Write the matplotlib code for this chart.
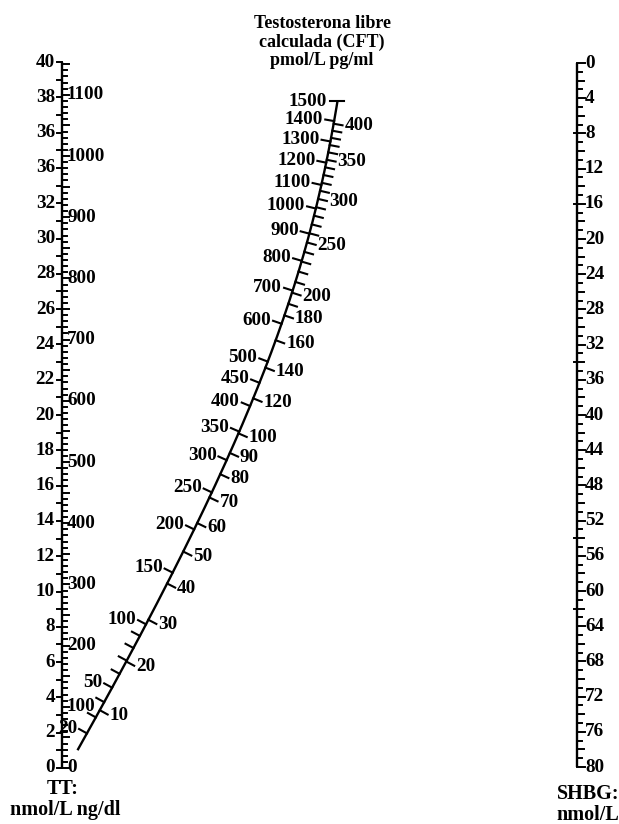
import numpy as np
import matplotlib
matplotlib.use("Agg")
import matplotlib.pyplot as plt

# ---- scale values ----
tt_nmol_ticks = np.arange(0, 41, 2)
# the original chart prints "36" twice (the 34 mark is mislabelled)
tt_nmol_labels = ["0", "2", "4", "6", "8", "10", "12", "14", "16", "18", "20",
                  "22", "24", "26", "28", "30", "32", "36", "36", "38", "40"]
tt_ngdl_labels = [0, 100, 200, 300, 400, 500, 600, 700, 800, 900, 1000, 1100]
shbg_labels = np.arange(0, 81, 4)
shbg_marks_left = [8, 16, 34, 54, 62]

cft_pmol_labels = [20, 50, 100, 150, 200, 250, 300, 350, 400, 450, 500,
                   600, 700, 800, 900, 1000, 1100, 1200, 1300, 1400, 1500]
cft_pmol_minor = [30, 40, 60, 70, 80, 90]
cft_pg_labels = [10, 20, 30, 40, 50, 60, 70, 80, 90, 100, 120, 140, 160,
                 180, 200, 250, 300, 350, 400]
cft_pg_minor = [190, 210, 220, 230, 240, 260, 270, 280, 290,
                310, 320, 330, 340, 360, 370, 380, 390]

NGDL_PER_NMOL = 28.84
PMOL_PER_PG = 3.467
N_ALB = 23.43      # 1 + Ka*[albumin]
K_SHBG = 1.0       # L/nmol

# ---- layout (pixels) ----
W, H = 619, 824
XL, XR = 62, 577
Y_TT0, Y_TT40 = 768, 62
Y_S0, Y_S80 = 63, 767
S_L = (Y_TT0 - Y_TT40) / 40.0
S_R = (Y_S80 - Y_S0) / 80.0


def tt_y(nmol):
    return Y_TT0 - S_L * np.asarray(nmol, dtype=float)


def shbg_y(v):
    return Y_S0 + S_R * np.asarray(v, dtype=float)


def cft_xy(pmol):
    # Vermeulen: TT = N*FT + SHBG*K*FT/(1+K*FT) -> alignment point
    ft = np.asarray(pmol, dtype=float) / 1000.0
    a = N_ALB * ft
    b = K_SHBG * ft / (1 + K_SHBG * ft)
    t = S_L * b / (S_R + S_L * b)
    x = XL + t * (XR - XL)
    x = x + 5.5 - 38 * t ** 2   # small correction to match the printed curve
    y = (1 - t) * (Y_TT0 - S_L * a) + t * Y_S0
    return x, y


def cft_normal(pmol):
    x0, y0 = cft_xy(pmol * 0.99)
    x1, y1 = cft_xy(pmol * 1.01)
    tx, ty = x1 - x0, y1 - y0
    n = np.hypot(tx, ty)
    tx, ty = tx / n, ty / n
    nx, ny = -ty, tx
    if nx > 0:
        nx, ny = -nx, -ny
    return nx, ny  # points to the left


fig = plt.figure(figsize=(W / 100, H / 100), dpi=100)
ax = fig.add_axes([0, 0, 1, 1])
ax.set_xlim(0, W)
ax.set_ylim(H, 0)
ax.axis("off")

font = dict(family="Liberation Serif", weight="bold", fontsize=13.8, color="black")
big = dict(font, fontsize=14.5)
lw = 1.7

# ---- left axis: TT ----
ax.plot([XL, XL], [tt_y(0), tt_y(40)], color="black", lw=lw, solid_capstyle="butt")
for v in range(0, 41):
    ax.plot([XL - 5, XL], [tt_y(v)] * 2, color="black", lw=1.4)
for v, lab in zip(tt_nmol_ticks, tt_nmol_labels):
    ax.text(XL - 7, tt_y(v), lab, ha="right", va="center", **font)
for v in range(0, 1151, 10):
    ln = 7 if v % 50 == 0 else 4.5
    ax.plot([XL, XL + ln], [tt_y(v / NGDL_PER_NMOL)] * 2, color="black", lw=1.4)
for v in tt_ngdl_labels:
    ax.text(XL + 5, tt_y(v / NGDL_PER_NMOL), str(v), ha="left", va="center", **font)
ax.text(XL + 1, 789, "TT:", ha="center", va="center", **big)
ax.text(XL + 3, 810, "nmol/L ng/dl", ha="center", va="center", **big)

# ---- right axis: SHBG ----
ax.plot([XR, XR], [shbg_y(0), shbg_y(80)], color="black", lw=lw, solid_capstyle="butt")
for v in range(0, 81):
    ln = 8 if v % 4 == 0 else (6.5 if v % 2 == 0 else 5)
    ax.plot([XR, XR + ln], [shbg_y(v)] * 2, color="black", lw=1.4)
for v in shbg_marks_left:
    ax.plot([XR - 3, XR], [shbg_y(v)] * 2, color="black", lw=1.4)
for v in shbg_labels:
    ax.text(XR + 8, shbg_y(v), str(v), ha="left", va="center", **font)
ax.text(588, 794, "SHBG:", ha="center", va="center", **big)
ax.text(588, 815, "nmol/L", ha="center", va="center", **big)

# ---- centre curve: CFT ----
p = np.geomspace(10, 1500, 500)
cx, cy = cft_xy(p)
ax.plot(cx, cy, color="black", lw=lw, solid_capstyle="butt")

TICK = 9
for v in cft_pmol_labels + cft_pmol_minor:
    x, y = cft_xy(v)
    nx, ny = cft_normal(v)
    if v == 1500:
        ax.plot([x - 7, x + 7], [y, y], color="black", lw=1.5)
        ax.text(x - 11, y, str(v), ha="right", va="center", **font)
        continue
    ax.plot([x, x + nx * TICK], [y, y + ny * TICK], color="black", lw=1.5)
    if v in cft_pmol_labels:
        ax.text(x + nx * (TICK + 2), y + ny * (TICK + 2), str(v),
                ha="right", va="center", **font)

for v in cft_pg_labels + cft_pg_minor:
    pm = v * PMOL_PER_PG
    x, y = cft_xy(pm)
    nx, ny = cft_normal(pm)
    ax.plot([x, x - nx * TICK], [y, y - ny * TICK], color="black", lw=1.5)
    if v in cft_pg_labels:
        ax.text(x - nx * (TICK + 2), y - ny * (TICK + 2), str(v),
                ha="left", va="center", **font)

ax.text(322, 42, "Testosterona libre\ncalculada (CFT)\npmol/L pg/ml",
        ha="center", va="center", linespacing=1.1,
        **dict(font, fontsize=13))

fig.savefig("out.png", dpi=100)
